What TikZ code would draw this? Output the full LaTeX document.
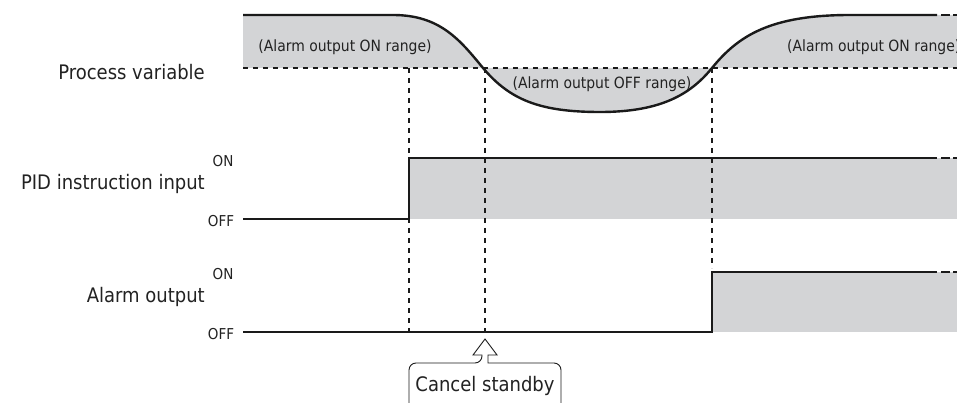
\documentclass[tikz,border=0pt]{standalone}
\usepackage{fontspec}
\setmainfont{DejaVu Sans Condensed}
\usetikzlibrary{positioning}
\definecolor{ink}{HTML}{1A1A1A}
\definecolor{band}{HTML}{D3D4D6}
\definecolor{txt}{HTML}{222222}

\begin{document}
\begin{tikzpicture}[x=1pt,y=-1pt,
  sig/.style={draw=ink,line width=2.4pt},
  tail/.style={draw=ink,line width=2.4pt,dash pattern=on 9pt off 3pt},
  guide/.style={draw=ink,line width=1.2pt,dash pattern=on 5pt off 5pt},
  signame/.style={font=\fontsize{20}{22}\selectfont,text=txt,anchor=east,inner sep=0pt},
  lvl/.style={font=\fontsize{15}{16}\selectfont,text=txt,inner sep=0pt},
  rng/.style={font=\fontsize{15.5}{17}\selectfont,text=txt,inner sep=0pt}]

\useasboundingbox (0,0) rectangle (957,403);
\clip (0,0) rectangle (957,403);

% process variable
\fill[band] (243,15) -- (393,15) .. controls (440,15) and (460,40) .. (483,68)
  .. controls (510,100) and (540,112) .. (600,112)
  .. controls (660,112) and (690,95) .. (712,68)
  .. controls (738,36) and (770,15) .. (850,15) -- (957,15) -- (957,68) -- (243,68) -- cycle;
\draw[guide] (243,68) -- (957,68);
\draw[sig] (243,15) -- (393,15) .. controls (440,15) and (460,40) .. (483,68)
  .. controls (510,100) and (540,112) .. (600,112)
  .. controls (660,112) and (690,95) .. (712,68)
  .. controls (738,36) and (770,15) .. (850,15) -- (937,15);
\draw[tail] (941,15) -- (960,15);

\node[rng] (onleft)  at (345,47) {(Alarm output ON range)};
\node[rng] (offmid)  at (602,84) {(Alarm output OFF range)};
\node[rng,anchor=west] (onright) at (787,47) {(Alarm output ON range)};
\node[signame] (pv) at (205,72) {Process variable};

% PID instruction input
\fill[band] (409,158) rectangle (957,219);
\draw[sig] (243,219) -- (409,219) -- (409,158) -- (937,158);
\draw[tail] (941,158) -- (960,158);
\node[signame] (pid) at (205,184) {PID instruction input};
\node[lvl] (pidon)  at (223,161) {ON};
\node[lvl] (pidoff) at (221,221) {OFF};

% alarm output
\fill[band] (712,272) rectangle (957,332);
\draw[sig] (243,332) -- (712,332) -- (712,272) -- (937,272);
\draw[tail] (941,272) -- (960,272);
\node[signame] (alarm) at (205,297) {Alarm output};
\node[lvl] (alon)  at (223,274) {ON};
\node[lvl] (aloff) at (221,334) {OFF};

% timing guides
\draw[guide] (409,68) -- (409,332);
\draw[guide] (485,68) -- (485,332);
\draw[guide] (712,68) -- (712,268);

% cancel standby
\node[font=\fontsize{20}{22}\selectfont,text=txt,inner sep=0pt] (cancel) at (485,386) {Cancel standby};
\draw[ink,line width=0.9pt] (409,410) [rounded corners=7pt] -- (409,363) -- (482,363)
  [sharp corners] -- (482,355) -- (473,355) -- (485,339) -- (497,355) -- (488,355) -- (488,363)
  [rounded corners=7pt] -- (561,363) -- (561,410);
\end{tikzpicture}
\end{document}
